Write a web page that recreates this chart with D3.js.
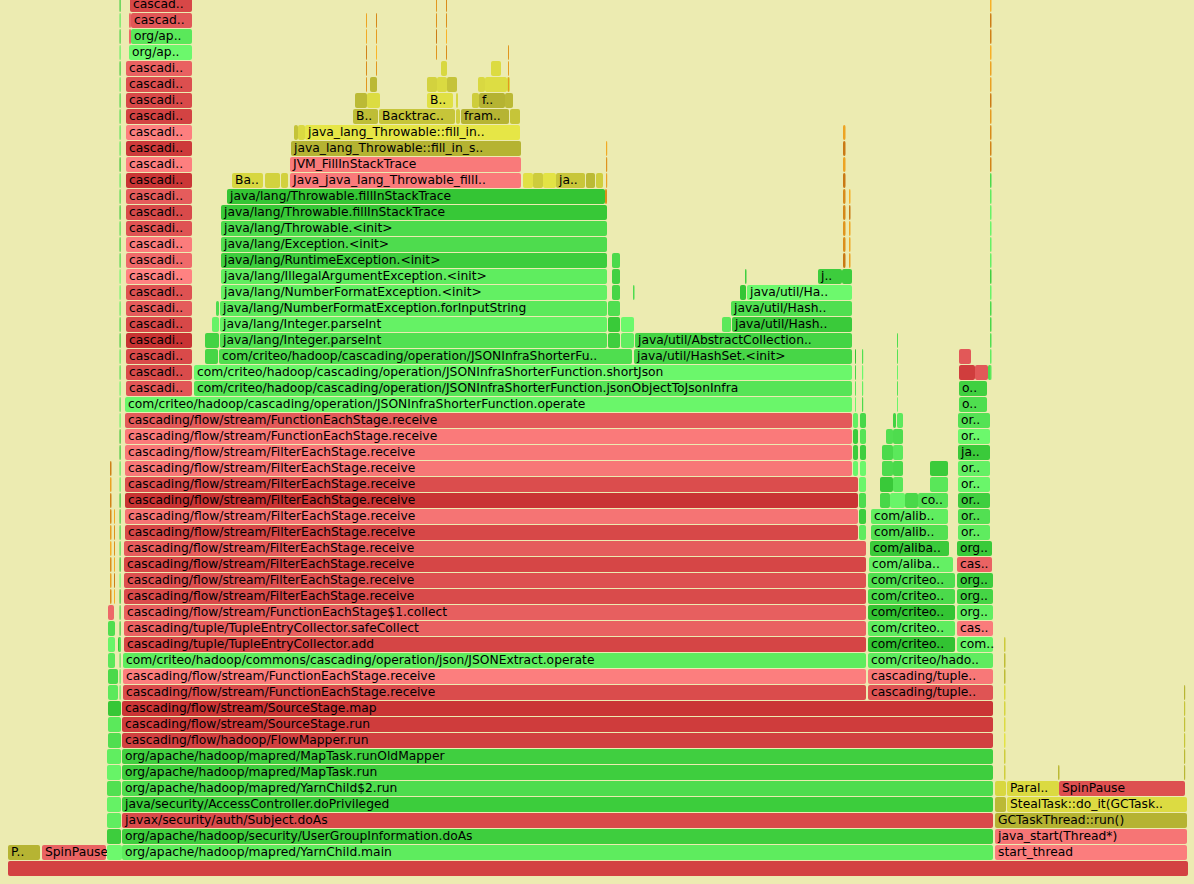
<!doctype html>
<html lang="en">
<head>
<meta charset="utf-8">
<title>Flame Graph</title>
<script src="https://d3js.org/d3.v7.min.js"></script>
<style>
  body { margin: 0; background: #ecebb1; overflow: hidden; }
  svg text { font-family: "DejaVu Sans", Verdana, sans-serif; font-size: 12.3px; fill: #000; }
</style>
</head>
<body>
<svg width="1194" height="884"></svg>
<script>
// frames: [first depth, last depth, first sample, sample count, kind, visible label]
// kind: j = java (green), c = c++ (yellow), n = native (red), k = kernel (orange)
var totalSamples = 1180;
var maxDepth = 54;

var rootAndThreads = [
  [0, 0, 0, 1180, "n", ""],
  [1, 1, 0, 32, "c", "P.."],
  [1, 1, 34, 64, "n", "SpinPause"],
  [1, 1, 99, 15, "j", ""],
  [2, 7, 99, 14, "j", ""],
  [8, 10, 100, 13, "j", ""],
  [11, 12, 100, 10, "j", ""],
  [13, 15, 100, 7, "j", ""],
  [14, 14, 110, 3, "j", ""],
  [16, 16, 100, 6, "n", ""],
  [17, 25, 102, 1.5, "k", ""],
  [17, 22, 106, 1, "k", ""],
  [11, 54, 111.5, 1.2, "j", ""]
];

var gcThread = [
  [1, 1, 987, 192, "n", "start_thread"],
  [2, 2, 987, 192, "n", "java_start(Thread*)"],
  [3, 3, 987, 192, "c", "GCTaskThread::run()"],
  [4, 5, 987, 11, "c", ""],
  [4, 4, 999, 180, "c", "StealTask::do_it(GCTask.."],
  [5, 5, 999, 52, "c", "Paral.."],
  [5, 5, 1051, 126, "n", "SpinPause"],
  [6, 14, 996, 1.5, "c", ""],
  [6, 6, 1050, 1.5, "c", ""],
  [6, 11, 1176, 1.2, "c", ""]
];

var mainStack = [
  [1, 1, 114, 871, "j", "org/apache/hadoop/mapred/YarnChild.main"],
  [2, 2, 114, 871, "j", "org/apache/hadoop/security/UserGroupInformation.doAs"],
  [3, 3, 114, 871, "n", "javax/security/auth/Subject.doAs"],
  [4, 4, 114, 871, "j", "java/security/AccessController.doPrivileged"],
  [5, 5, 114, 871, "j", "org/apache/hadoop/mapred/YarnChild$2.run"],
  [6, 6, 114, 871, "j", "org/apache/hadoop/mapred/MapTask.run"],
  [7, 7, 114, 871, "j", "org/apache/hadoop/mapred/MapTask.runOldMapper"],
  [8, 8, 114, 871, "n", "cascading/flow/hadoop/FlowMapper.run"],
  [9, 9, 114, 871, "n", "cascading/flow/stream/SourceStage.run"],
  [10, 10, 114, 871, "n", "cascading/flow/stream/SourceStage.map"],
  [11, 12, 115, 743, "n", "cascading/flow/stream/FunctionEachStage.receive"],
  [13, 13, 115, 743, "j", "com/criteo/hadoop/commons/cascading/operation/json/JSONExtract.operate"],
  [14, 14, 116, 742, "n", "cascading/tuple/TupleEntryCollector.add"],
  [15, 15, 116, 742, "n", "cascading/tuple/TupleEntryCollector.safeCollect"],
  [16, 16, 116, 742, "n", "cascading/flow/stream/FunctionEachStage$1.collect"],
  [17, 20, 116, 742, "n", "cascading/flow/stream/FilterEachStage.receive"],
  [21, 24, 117, 733, "n", "cascading/flow/stream/FilterEachStage.receive"],
  [25, 26, 117, 727, "n", "cascading/flow/stream/FilterEachStage.receive"],
  [27, 28, 117, 727, "n", "cascading/flow/stream/FunctionEachStage.receive"],
  [29, 29, 117, 727, "j", "com/criteo/hadoop/cascading/operation/JSONInfraShorterFunction.operate"],
  [30, 30, 186, 658, "j", "com/criteo/hadoop/cascading/operation/JSONInfraShorterFunction.jsonObjectToJsonInfra"],
  [31, 31, 186, 658, "j", "com/criteo/hadoop/cascading/operation/JSONInfraShorterFunction.shortJson"],
  [21, 24, 851, 7, "j", ""],
  [25, 28, 845, 5, "j", ""],
  [25, 28, 852, 6, "j", ""],
  [29, 32, 847, 1, "j", ""],
  [29, 32, 854, 1.2, "j", ""]
];

var cascadingTower = [
  [30, 50, 118, 66, "n", "cascadi.."],
  [51, 51, 121, 63, "j", "org/ap.."],
  [52, 53, 121, 2, "n", ""],
  [52, 52, 123, 61, "j", "org/ap.."],
  [53, 53, 123, 61, "n", "cascad.."],
  [54, 54, 122, 62, "n", "cascad.."]
];

var jsonBranch = [
  [32, 32, 197, 13, "j", ""],
  [32, 32, 211, 413, "j", "com/criteo/hadoop/cascading/operation/JSONInfraShorterFu.."],
  [33, 33, 197, 14, "j", ""],
  [33, 34, 212, 387, "j", "java/lang/Integer.parseInt"],
  [34, 34, 204, 7, "j", ""],
  [35, 35, 208, 3, "j", ""],
  [35, 35, 212, 387, "j", "java/lang/NumberFormatException.forInputString"],
  [36, 36, 213, 386, "j", "java/lang/NumberFormatException.<init>"],
  [37, 37, 213, 386, "j", "java/lang/IllegalArgumentException.<init>"],
  [38, 38, 213, 386, "j", "java/lang/RuntimeException.<init>"],
  [39, 39, 213, 386, "j", "java/lang/Exception.<init>"],
  [40, 40, 213, 386, "j", "java/lang/Throwable.<init>"],
  [41, 41, 213, 386, "j", "java/lang/Throwable.fillInStackTrace"],
  [42, 42, 219, 378, "j", "java/lang/Throwable.fillInStackTrace"],
  [33, 35, 600, 12, "j", ""],
  [33, 34, 613, 13, "j", ""],
  [36, 38, 604, 8, "j", ""],
  [36, 36, 625, 1.5, "j", ""],
  [42, 42, 597, 2, "k", ""],
  [43, 45, 598, 1.2, "k", ""]
];

var hashBranch = [
  [32, 32, 626, 218, "j", "java/util/HashSet.<init>"],
  [33, 33, 627, 217, "j", "java/util/AbstractCollection.."],
  [34, 34, 714, 9, "j", ""],
  [34, 34, 724, 120, "j", "java/util/Hash.."],
  [35, 35, 723, 121, "j", "java/util/Hash.."],
  [36, 36, 732, 6, "j", ""],
  [36, 36, 739, 105, "j", "java/util/Ha.."],
  [37, 37, 737, 1.5, "j", ""],
  [37, 37, 810, 24, "j", "j.."],
  [37, 37, 834, 10, "j", ""],
  [38, 46, 835, 2.5, "k", ""],
  [38, 42, 841, 1.5, "k", ""]
];

var throwableBranch = [
  [43, 43, 224, 31, "c", "Ba.."],
  [43, 43, 257, 15, "c", ""],
  [43, 43, 273, 7, "c", ""],
  [43, 43, 282, 231, "n", "Java_java_lang_Throwable_fillI.."],
  [43, 43, 515, 10, "c", ""],
  [43, 43, 525, 10, "c", ""],
  [43, 43, 535, 13, "c", ""],
  [43, 43, 548, 29, "c", "ja.."],
  [43, 43, 578, 9, "c", ""],
  [43, 43, 588, 7, "c", ""],
  [44, 44, 282, 231, "n", "JVM_FillInStackTrace"],
  [45, 45, 283, 230, "c", "java_lang_Throwable::fill_in_s.."],
  [46, 46, 286, 4, "c", ""],
  [46, 46, 290, 7, "c", ""],
  [46, 46, 297, 215, "c", "java_lang_Throwable::fill_in.."],
  [47, 47, 345, 25, "c", "B.."],
  [47, 47, 371, 76, "c", "Backtrac.."],
  [47, 47, 448, 4, "c", ""],
  [47, 47, 453, 48, "c", "fram.."],
  [47, 47, 502, 10, "c", ""],
  [48, 48, 347, 12, "c", ""],
  [48, 48, 359, 13, "c", ""],
  [48, 48, 419, 26, "c", "B.."],
  [48, 48, 448, 2, "c", ""],
  [48, 48, 464, 7, "c", ""],
  [48, 48, 471, 26, "c", "f.."],
  [48, 48, 497, 8, "c", ""],
  [49, 49, 362, 7, "c", ""],
  [49, 49, 419, 10, "c", ""],
  [49, 49, 429, 10, "c", ""],
  [49, 49, 439, 10, "c", ""],
  [49, 49, 470, 7, "c", ""],
  [49, 49, 477, 22, "c", ""],
  [49, 49, 499, 3, "c", ""],
  [50, 50, 433, 6, "c", ""],
  [50, 50, 483, 10, "c", ""],
  [49, 53, 358, 1, "k", ""],
  [50, 53, 368, 1, "k", ""],
  [51, 54, 428, 1, "k", ""],
  [51, 54, 438, 1, "k", ""],
  [49, 51, 500, 1, "k", ""]
];

var middleTowers = [
  [11, 12, 860, 125, "n", "cascading/tuple.."],
  [13, 13, 860, 125, "j", "com/criteo/hado.."],
  [14, 18, 860, 87, "j", "com/criteo.."],
  [19, 19, 861, 84, "j", "com/aliba.."],
  [20, 20, 862, 79, "j", "com/aliba.."],
  [21, 22, 863, 77, "j", "com/alib.."],
  [23, 23, 872, 10, "j", ""],
  [23, 23, 882, 15, "j", ""],
  [23, 23, 897, 13, "j", ""],
  [23, 23, 910, 30, "j", "co.."],
  [24, 24, 872, 13, "j", ""],
  [25, 26, 874, 11, "j", ""],
  [27, 27, 878, 7, "j", ""],
  [24, 27, 885, 10, "j", ""],
  [24, 25, 922, 18, "j", ""],
  [28, 28, 885, 3, "j", ""],
  [28, 28, 889, 6, "j", ""],
  [29, 33, 889, 1, "j", ""]
];

var rightTower = [
  [14, 14, 949, 36, "j", "com.."],
  [15, 15, 949, 36, "n", "cas.."],
  [16, 18, 949, 36, "j", "org.."],
  [19, 19, 949, 35, "n", "cas.."],
  [20, 20, 949, 35, "j", "org.."],
  [21, 25, 950, 32, "j", "or.."],
  [26, 26, 950, 32, "j", "ja.."],
  [27, 28, 950, 32, "j", "or.."],
  [29, 30, 951, 28, "j", "o.."],
  [31, 31, 951, 16, "n", ""],
  [31, 31, 967, 13, "n", ""],
  [31, 31, 980, 3, "j", ""],
  [32, 32, 951, 12, "n", ""],
  [31, 43, 982, 1.5, "j", ""],
  [44, 54, 982, 1.5, "k", ""]
];

var groups = [rootAndThreads, gcThread, mainStack, cascadingTower, jsonBranch,
              hashBranch, throwableBranch, middleTowers, rightTower];

// expand depth ranges into single frames
var frames = [];
groups.forEach(function(g) {
  g.forEach(function(f) {
    for (var d = f[0]; d <= f[1]; d++) {
      frames.push({depth: d, start: f[2], samples: f[3], kind: f[4], label: f[5]});
    }
  });
});

var svg = d3.select("svg");

var x = d3.scaleLinear().domain([0, totalSamples]).range([8, 1188]);
var y = d3.scaleLinear().domain([0, maxDepth]).range([861, 861 - 16 * maxDepth]);

// stable pseudo shade per frame, like flamegraph's random palette
function shade(f) {
  var s = f.label + "|" + f.depth + "|" + f.start, h = 2166136261;
  for (var i = 0; i < s.length; i++) {
    h ^= s.charCodeAt(i);
    h = Math.imul(h, 16777619);
  }
  return ((h >>> 0) % 1000) / 1000;
}

function color(f) {
  var v = shade(f);
  if (f.kind == "j") return d3.rgb(50 + 60 * v, 195 + 55 * v, 50 + 60 * v);
  if (f.kind == "c") return d3.rgb(180 + 50 * v, 178 + 52 * v, 50 + 20 * v);
  if (f.kind == "k") return d3.rgb(200 + 50 * v, 120 + 60 * v, 20 + 20 * v);
  return d3.rgb(200 + 55 * v, 50 + 80 * v, 50 + 80 * v);
}

var g = svg.append("g");

var node = g.selectAll("g.frame")
  .data(frames)
  .enter().append("g")
    .attr("class", "frame");

node.append("rect")
    .attr("x", function(d) { return x(d.start); })
    .attr("y", function(d) { return y(d.depth); })
    .attr("width", function(d) { return x(d.start + d.samples) - x(d.start); })
    .attr("height", 15)
    .attr("rx", 2)
    .attr("ry", 2)
    .attr("fill", color);

node.filter(function(d) { return d.label != ""; })
  .append("text")
    .attr("x", function(d) { return x(d.start) + 3; })
    .attr("y", function(d) { return y(d.depth) + 11; })
    .text(function(d) { return d.label; });
</script>
</body>
</html>
